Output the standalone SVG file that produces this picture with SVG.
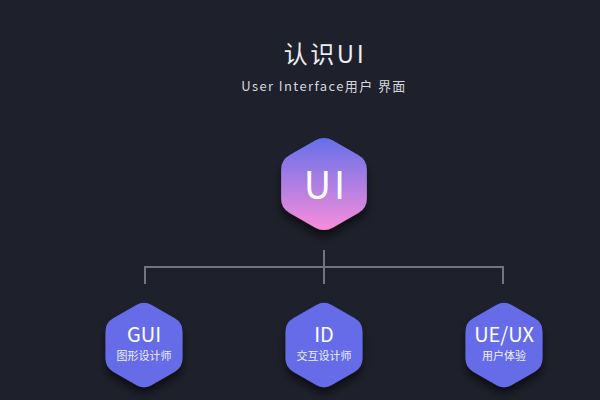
<svg xmlns="http://www.w3.org/2000/svg" width="600" height="400" viewBox="0 0 600 400">
<style>
.t{font-family:"Noto Sans CJK SC","Noto Sans",sans-serif;fill:#ffffff;text-anchor:middle}
.title{font-size:24px;fill:#ececf2;letter-spacing:2.5px}
.sub{font-size:13px;fill:#d6d7de;letter-spacing:1.4px}
.big{font-size:38px;letter-spacing:3px}
.lbl{font-size:20px}
.small{font-size:11px;fill:#eef0ff}
.conn{fill:none;stroke:#72747f;stroke-width:2}
</style>
<defs>
<linearGradient id="g" x1="0" y1="0" x2="0" y2="1">
<stop offset="0" stop-color="#656fe9"/>
<stop offset="1" stop-color="#f88ddb"/>
</linearGradient>
<filter id="sh" x="-30%" y="-30%" width="160%" height="170%">
<feDropShadow dx="0" dy="7" stdDeviation="5" flood-color="#000" flood-opacity="0.55"/>
</filter>
<path id="hex" d="M8.66,-45 L34.64,-30 Q43.30,-25 43.30,-15 L43.30,15 Q43.30,25 34.64,30 L8.66,45 Q0,50 -8.66,45 L-34.64,30 Q-43.30,25 -43.30,15 L-43.30,-15 Q-43.30,-25 -34.64,-30 L-8.66,-45 Q0,-50 8.66,-45 Z"/>
</defs>
<rect width="600" height="400" fill="#1e202b"/>
<text class="t title" x="325" y="63">认识UI</text>
<text class="t sub" x="324" y="91">User Interface用户 界面</text>
<g id="connectors">
<path class="conn" d="M324,250 V284 M145,284 V267 H503 V284"/>
</g>
<g id="node-ui">
<use href="#hex" transform="translate(324,184) scale(0.99,0.97)" fill="url(#g)" filter="url(#sh)"/>
<text class="t big" x="326" y="199">UI</text>
</g>
<g id="node-gui">
<use href="#hex" transform="translate(144,345) scale(0.89)" fill="#666ce8" filter="url(#sh)"/>
<text class="t lbl" x="144" y="342">GUI</text>
<text class="t small" x="144" y="360">图形设计师</text>
</g>
<g id="node-id">
<use href="#hex" transform="translate(324,345) scale(0.89)" fill="#666ce8" filter="url(#sh)"/>
<text class="t lbl" x="324" y="342">ID</text>
<text class="t small" x="324" y="360">交互设计师</text>
</g>
<g id="node-ueux">
<use href="#hex" transform="translate(504,345) scale(0.89)" fill="#666ce8" filter="url(#sh)"/>
<text class="t lbl" x="504" y="342">UE/UX</text>
<text class="t small" x="504" y="360">用户体验</text>
</g>
</svg>
